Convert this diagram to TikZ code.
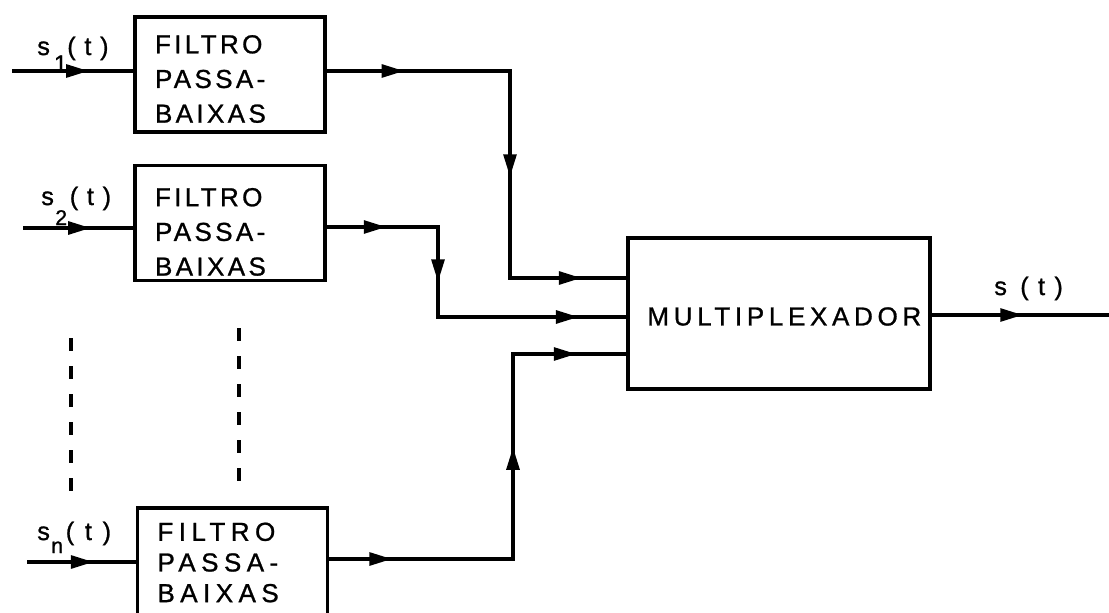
\documentclass[tikz,border=0pt]{standalone}
\usepackage{fontspec}
\setmainfont{Liberation Sans}
\usetikzlibrary{arrows.meta,decorations.markings,calc}
\newcommand\lowsub[3]{\raisebox{-#1}{\fontsize{#2}{#2}\selectfont #3}}
\begin{document}
\begin{tikzpicture}[x=0.75pt,y=-0.75pt,
  wire/.style={line width=2.8pt},
  am/.style={postaction={decorate,decoration={markings,
     mark=at position #1 with {\arrow{Triangle[length=17pt,width=9.5pt]}}}}},
  lettering/.style={font=\addfontfeatures{LetterSpace=13,FakeBold=1}\fontsize{19.5pt}{26pt}\selectfont},
  filterbox/.style={draw,line width=2.8pt,lettering,align=left,
     text width=112.5pt,inner xsep=15pt,minimum height=86.25pt},
  muxbox/.style={draw,line width=2.8pt,minimum width=226.5pt,minimum height=113.25pt,
     font=\addfontfeatures{LetterSpace=18,FakeBold=1}\fontsize{19.5pt}{26pt}\selectfont},
  siglabel/.style={anchor=base west,inner sep=0pt,
     font=\addfontfeatures{LetterSpace=6,FakeBold=1}\fontsize{19pt}{22pt}\selectfont},
  dots/.style={line width=2.3pt,dash pattern=on 10pt off 11pt}]
\useasboundingbox (0,0) rectangle (1109,613);
\fill[white] (0,0) rectangle (1109,613);

% boxes
\node[filterbox] (b1) at (230,74.5) {\rule{0pt}{20.4pt}FILTRO\\PASSA-\\BAIXAS};
\node[filterbox] (b2) at (230,223) {\rule{0pt}{27pt}FILTRO\\PASSA-\\BAIXAS};
\node[filterbox,minimum height=81.75pt,
      font=\addfontfeatures{LetterSpace=21,FakeBold=1}\fontsize{19.5pt}{23pt}\selectfont]
      (b3) at (232.5,562.5) {FILTRO\\PASSA-\\BAIXAS};
\node[muxbox] (mux) at (779,313.5) {\rule{0pt}{18.1pt}\hspace*{8pt}MULTIPLEXADOR};

% input coordinates
\coordinate (i1) at (12,71);
\coordinate (i2) at (23,228);
\coordinate (i3) at (27,562);
\coordinate (out) at (1109,315);

% corner coordinates
\coordinate (c1a) at (510,71);
\coordinate (c1b) at (510,278);
\coordinate (c2a) at (438,227);
\coordinate (c2b) at (438,317);
\coordinate (c3a) at (513,559);
\coordinate (c3b) at (513,354);

% inputs
\draw[wire,am=0.634] (i1) -- (i1 -| b1.west);
\draw[wire,am=0.616] (i2) -- (i2 -| b2.west);
\draw[wire,am=0.613] (i3) -- (i3 -| b3.west);

% filter outputs to multiplexer
\draw[wire,am=0.153,am=0.571,am=0.912] (c1a -| b1.east) -- (c1a) -- (c1b) -- (c1b -| mux.west);
\draw[wire,am=0.153,am=0.427,am=0.878] (c2a -| b2.east) -- (c2a) -- (c2b) -- (c2b -| mux.west);
\draw[wire,am=0.125,am=0.589,am=0.901] (c3a -| b3.east) -- (c3a) -- (c3b) -- (c3b -| mux.west);

% multiplexer output
\draw[wire,am=0.514] (out -| mux.east) -- (out);

% labels
\node[siglabel] (l1) at (37,55) {s\hspace{3pt}\lowsub{12.75pt}{18pt}{1}\hspace{0pt}(\hspace{6.5pt}t\hspace{6.5pt})};
\node[siglabel] (l2) at (41,205) {s\hspace{1pt}\lowsub{15pt}{16pt}{2}\hspace{2pt}(\hspace{6.5pt}t\hspace{6.5pt})};
\node[siglabel] (l3) at (37,540) {s\hspace{1pt}\lowsub{9.75pt}{16pt}{n}\hspace{2pt}(\hspace{8pt}t\hspace{8pt})};
\node[siglabel] (l4) at (994,295) {s\hspace{10pt}(\hspace{7pt}t\hspace{7pt})};

% continuation dashes
\draw[dots] (71,338) -- (71,500);
\draw[dots] (239,328) -- (239,482);
\end{tikzpicture}
\end{document}
